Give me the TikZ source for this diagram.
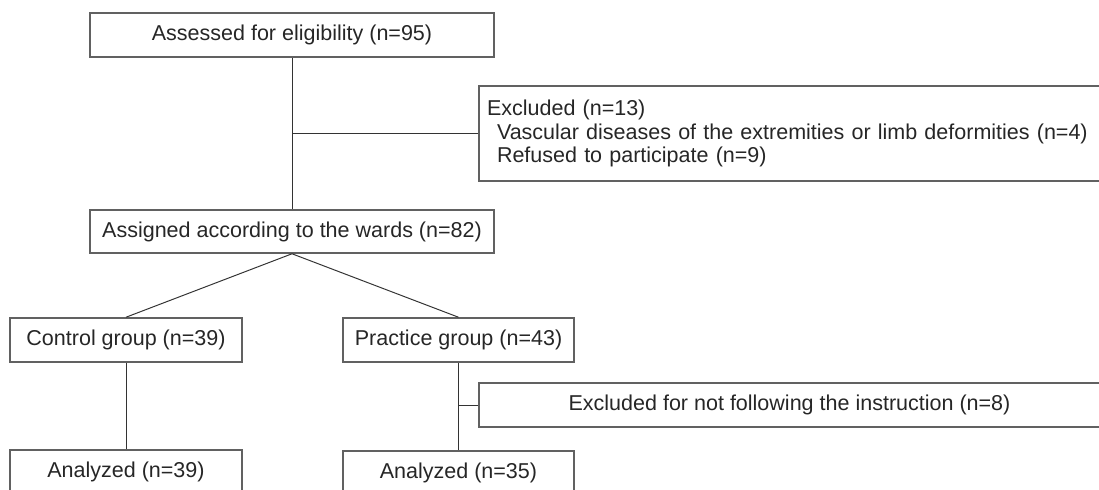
\documentclass[tikz,border=0pt]{standalone}
\usepackage{fontspec}
\setmainfont{Liberation Sans}
\tikzset{
  flowbox/.style={draw=black!62, line width=1.1pt, rectangle, inner sep=0pt,
    text=black!85, font=\fontsize{15.3}{17}\selectfont},
  link/.style={draw=black!80, line width=0.7pt}
}
\begin{document}
\begin{tikzpicture}[x=0.25mm, y=-0.25mm]
  \useasboundingbox (0,0) rectangle (1099,489);
  \clip (0,0) rectangle (1099,489);
  \node[flowbox, minimum width=101mm, minimum height=11mm] (assess) at (292,35) {Assessed for eligibility (n=95)};
  \node[flowbox, minimum width=155.25mm, minimum height=23.75mm, text width=151.25mm, align=left,
    inner xsep=2mm] (excl) at (789.5,133.5)
    {Excluded (n=13)\\
     \hspace*{2.5mm}Vascular diseases of the extremities or limb deformities (n=4)\\
     \hspace*{2.5mm}Refused to participate (n=9)};
  \node[flowbox, minimum width=101mm, minimum height=10.75mm] (assign) at (292,231.5) {Assigned according to the wards (n=82)};
  \node[flowbox, minimum width=58mm, minimum height=11mm] (ctrl) at (126,340) {Control group (n=39)};
  \node[flowbox, minimum width=57.75mm, minimum height=11mm] (prac) at (458.5,340) {Practice group (n=43)};
  \node[flowbox, minimum width=155.25mm, minimum height=11mm] (exclprac) at (789.5,405) {Excluded for not following the instruction (n=8)};
  \node[flowbox, minimum width=58mm, minimum height=11mm] (anctrl) at (126,472) {Analyzed (n=39)};
  \node[flowbox, minimum width=57.75mm, minimum height=11mm] (anprac) at (458.5,473) {Analyzed (n=35)};
  \draw[link] (assess) -- (assign);
  \draw[link] (assess.south |- excl.west) -- (excl.west);
  \draw[link] (ctrl.north) -- (assign.south) -- (prac.north);
  \draw[link] (ctrl) -- (anctrl);
  \draw[link] (prac) -- (anprac);
  \draw[link] (prac.south |- exclprac.west) -- (exclprac.west);
\end{tikzpicture}
\end{document}
